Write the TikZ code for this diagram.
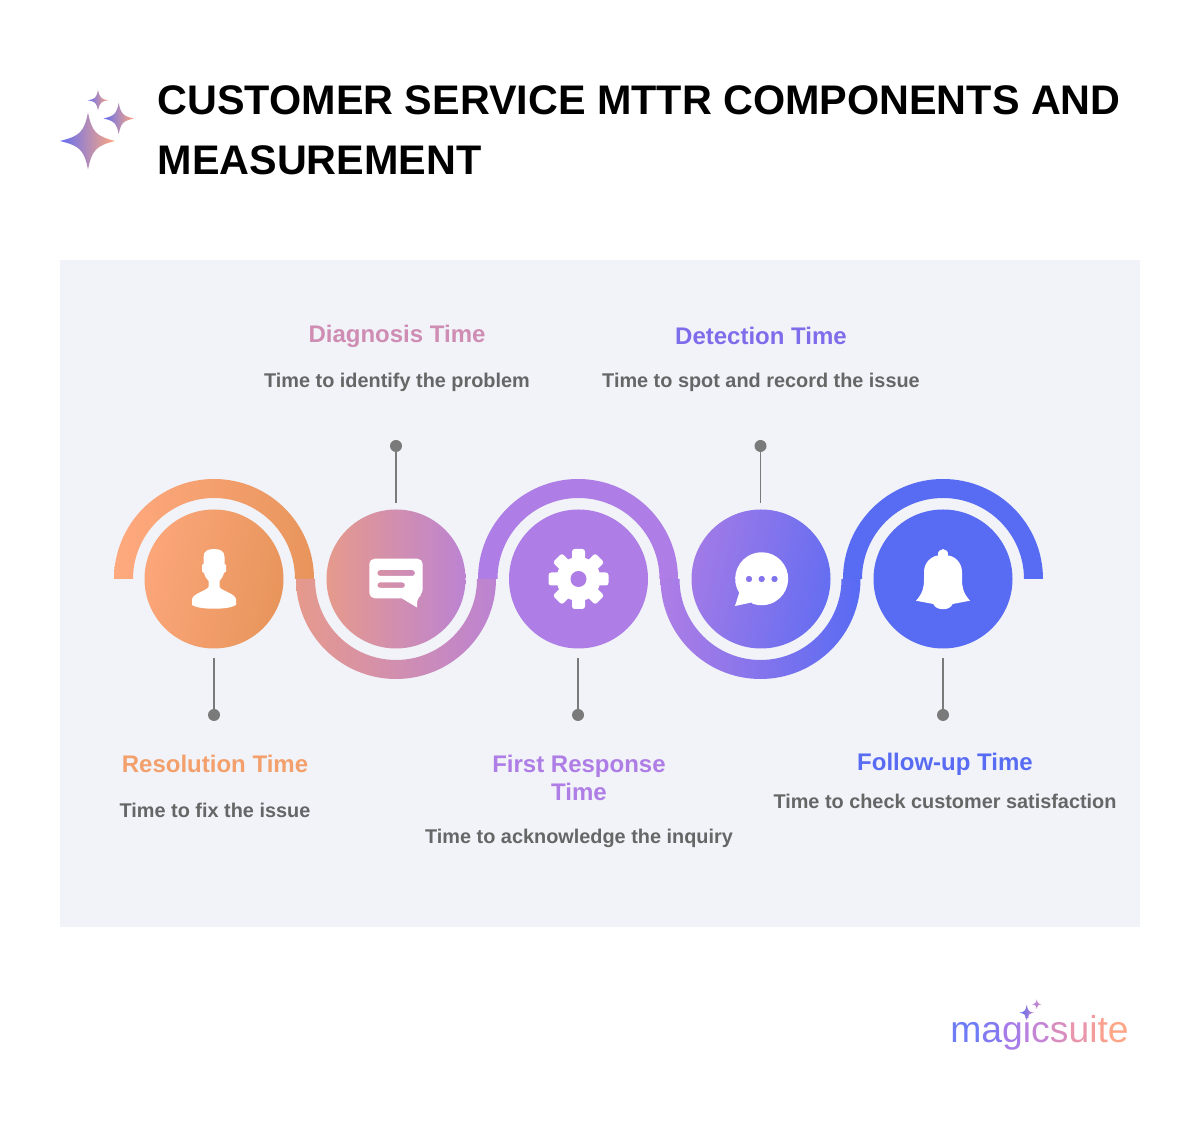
\documentclass[tikz,border=0pt]{standalone}
\RequirePackage{fontspec}
\RequirePackage{xcolor}
\usetikzlibrary{calc}
\setmainfont{Liberation Sans}

\definecolor{panelbg}{HTML}{F1F3F9}
\definecolor{pingray}{HTML}{7A7A7A}
\definecolor{descgray}{HTML}{666666}
\definecolor{orangeA}{HTML}{FFA97F}
\definecolor{orangeB}{HTML}{E8955C}
\definecolor{roseA}{HTML}{E69A8C}
\definecolor{roseB}{HTML}{BC83D2}
\definecolor{violet}{HTML}{AE7DE5}
\definecolor{indigo}{HTML}{586BF3}
\definecolor{headA}{HTML}{F3A06C}
\definecolor{headB}{HTML}{CF8DB4}
\definecolor{headD}{HTML}{7E6DEB}

\tikzset{
    ring/.style={circle,minimum size=104.25pt,inner sep=0pt},
    pindot/.style={circle,fill=pingray,minimum size=9pt,inner sep=0pt},
    pinline/.style={draw=pingray,line width=1.1pt},
    headtext/.style={font=\fontsize{18}{21}\selectfont\bfseries,align=center},
    desctext/.style={font=\fontsize{14.9}{18}\selectfont\bfseries,text=descgray,align=center},
    icon/.style={fill=white,draw=none}
}

\begin{document}
\begin{tikzpicture}[x=0.75pt,y=0.75pt]
                \useasboundingbox (0,0) rectangle (1200,1128);
                \fill[panelbg] (60,201) rectangle (1140,868);

                \shade[left color=orangeA,right color=orangeB] (114,549) arc[start angle=180,end angle=0,radius=100] -- (295,549) arc[start angle=0,end angle=180,radius=81] -- cycle;
                \shade[left color=roseA,right color=roseB] (296,549) arc[start angle=180,end angle=360,radius=100] -- (477,549) arc[start angle=360,end angle=180,radius=81] -- cycle;
                \fill[violet] (478,549) arc[start angle=180,end angle=0,radius=100] -- (659.5,549) arc[start angle=0,end angle=180,radius=81] -- cycle;
                \shade[left color=violet,right color=indigo] (660.5,549) arc[start angle=180,end angle=360,radius=100] -- (841.5,549) arc[start angle=360,end angle=180,radius=81] -- cycle;
                \fill[indigo] (843,549) arc[start angle=180,end angle=0,radius=100] -- (1024,549) arc[start angle=0,end angle=180,radius=81] -- cycle;

                \node[ring,left color=orangeA!85!orangeB,right color=orangeB,shading angle=78] (C1) at (214,549) {};
                \node[ring,left color=roseA,right color=roseB] (C2) at (396,549) {};
                \node[ring,fill=violet] (C3) at (578.5,549) {};
                \node[ring,left color=violet!85!indigo,right color=indigo!85!violet,shading angle=78] (C4) at (761,549) {};
                \node[ring,fill=indigo] (C5) at (943,549) {};

                \node[pindot] (D1) at (214,413) {};
                \node[pindot] (D2) at (396,682) {};
                \node[pindot] (D3) at (578,413) {};
                \node[pindot] (D4) at (760.5,682) {};
                \node[pindot] (D5) at (943,413) {};

                \coordinate (T1) at (214,470);
                \coordinate (T2) at (396,625);
                \coordinate (T3) at (578,470);
                \coordinate (T4) at (760.5,625);
                \coordinate (T5) at (943,470);

                \draw[pinline] (D1) -- (T1);
                \draw[pinline] (D2) -- (T2);
                \draw[pinline] (D3) -- (T3);
                \draw[pinline] (D4) -- (T4);
                \draw[pinline] (D5) -- (T5);

                \begin{scope}[shift={(C1)}]
                    \fill[icon] (0,30) .. controls (6,30) and (10.5,28) .. (10.5,22) -- (10.5,15) -- (12,14) -- (12,7.5) -- (10,6) .. controls (9,2) and (7,0) .. (5.5,-2) -- (5.5,-8) .. controls (8,-12) and (20,-14) .. (22,-20) -- (22,-26) .. controls (15,-31) and (-15,-31) .. (-22,-26) -- (-22,-20) .. controls (-20,-14) and (-8,-12) .. (-5.5,-8) -- (-5.5,-2) .. controls (-7,0) and (-9,2) .. (-10,6) -- (-12,7.5) -- (-12,14) -- (-10.5,15) -- (-10.5,22) .. controls (-10.5,28) and (-6,30) .. (0,30) -- cycle;
                \end{scope}

                \begin{scope}[shift={(C2)}]
                    \fill[icon,even odd rule] [rounded corners=4pt] (-26.7,20.3) -- (26.7,20.3) -- (26.7,-15) -- (21,-19) [sharp corners] -- (21,-28.5) -- (5.7,-19.3) [rounded corners=4pt] -- (-26.7,-19.3) -- cycle
                        [rounded corners=2.2pt] (-18.7,9) rectangle (19,3)
                        (-18.7,-3.3) rectangle (9,-9);
                \end{scope}

                \begin{scope}[shift={(C3)}]
                    \fill[icon] (0,0) circle[radius=22];
                    \fill[icon,rounded corners=2pt] (-6.5,-30) rectangle (6.5,30);
                    \fill[icon,rounded corners=2pt] (-30,-6.5) rectangle (30,6.5);
                    \fill[icon,rounded corners=2pt,rotate=45] (-6.5,-30) rectangle (6.5,30);
                    \fill[icon,rounded corners=2pt,rotate=45] (-30,-6.5) rectangle (30,6.5);
                    \fill[violet] (0,0) circle[radius=8];
                \end{scope}

                \begin{scope}[shift={(C4)}]
                    \fill[icon,even odd rule] (-26,-27) -- (-21.8,-13.8) arc[start angle=212,end angle=-110,radius=26.5] -- (-9.5,-23.5) -- cycle
                        (-12,0) circle[radius=3.3] (0.7,0) circle[radius=3.3] (13.5,0) circle[radius=3.3];
                \end{scope}

                \begin{scope}[shift={(C5)}]
                    \fill[icon] (-27,-21.7) .. controls (-20,-14) and (-19,-8) .. (-19,0) -- (-19,7) .. controls (-19,17) and (-11,23) .. (-5,23.5) .. controls (-6,32) and (6,32) .. (5,23.5) .. controls (11,23) and (19,17) .. (19,7) -- (19,0) .. controls (19,-8) and (20,-14) .. (27,-21.7) -- (9.7,-25) .. controls (7,-32) and (-7,-32) .. (-9.7,-25) -- cycle;
                \end{scope}

                \node[headtext,text=headB] (H2) at (397,792) {Diagnosis Time};
                \node[desctext] (L2) at (397,746) {Time to identify the problem};
                \node[headtext,text=headD] (H4) at (761,792) {Detection Time};
                \node[desctext] (L4) at (761,746) {Time to spot and record the issue};
                \node[headtext,text=headA] (H1) at (215,364) {Resolution Time};
                \node[desctext] (L1) at (215,318) {Time to fix the issue};
                \node[headtext,text=violet] (H3) at (579,350) {First Response\\Time};
                \node[desctext] (L3) at (579,290) {Time to acknowledge the inquiry};
                \node[headtext,text=indigo] (H5) at (945,364) {Follow-up Time};
                \node[desctext] (L5) at (945,327) {Time to check customer satisfaction};

                \node[anchor=west,align=left,font=\fontsize{31}{45}\selectfont\bfseries] (title) at (153,998) {CUSTOMER SERVICE MTTR COMPONENTS AND\\MEASUREMENT};

                \shade[left color=indigo!85!violet,middle color=violet,right color=orangeA] (115,987) .. controls (96,992) and (92,996) .. (88,1015.5) .. controls (84,996) and (80,992) .. (60,987) .. controls (80,982) and (84,978) .. (88,958.5) .. controls (92,978) and (96,982) .. (115,987) -- cycle;
                \shade[left color=indigo!85!violet,middle color=violet,right color=orangeA] (134,1009.5) .. controls (123,1012) and (121,1014) .. (118.7,1025) .. controls (116.5,1014) and (114,1012) .. (103.5,1009.5) .. controls (114,1007) and (116.5,1005) .. (118.7,994) .. controls (121,1005) and (123,1007) .. (134,1009.5) -- cycle;
                \shade[left color=indigo!85!violet,middle color=violet,right color=orangeA] (108.3,1027.7) .. controls (101,1029) and (100,1030) .. (98,1038) .. controls (96.5,1030) and (95,1029) .. (87.7,1027.7) .. controls (95,1026.5) and (96.5,1025.5) .. (98,1017.5) .. controls (100,1025.5) and (101,1026.5) .. (108.3,1027.7) -- cycle;

                \node[anchor=base west,inner sep=0pt,font=\fontsize{28}{30}\selectfont] (logo) at (950,85) {\textcolor[HTML]{6E7CF6}{m}\textcolor[HTML]{8379F0}{a}\textcolor[HTML]{A87CE8}{g}\textcolor[HTML]{BB80DF}{i}\textcolor[HTML]{C585D6}{c}\textcolor[HTML]{D88DBF}{s}\textcolor[HTML]{E996AC}{u}\textcolor[HTML]{F29C9C}{i}\textcolor[HTML]{FAA08F}{t}\textcolor[HTML]{FFA687}{e}};

                \shade[left color=indigo,right color=headB!60!violet] (1034,115.3) .. controls (1029,116) and (1028,117) .. (1026.7,123) .. controls (1025.5,117) and (1024.5,116) .. (1019.5,115.3) .. controls (1024.5,114.5) and (1025.5,113.5) .. (1026.7,107.5) .. controls (1028,113.5) and (1029,114.5) .. (1034,115.3) -- cycle;
                \shade[left color=violet,right color=headB] (1041.5,123.7) .. controls (1038,124.2) and (1037.5,125) .. (1036.7,128.5) .. controls (1036,125) and (1035.5,124.2) .. (1032,123.7) .. controls (1035.5,123.2) and (1036,122.5) .. (1036.7,119) .. controls (1037.5,122.5) and (1038,123.2) .. (1041.5,123.7) -- cycle;
\end{tikzpicture}
\end{document}
